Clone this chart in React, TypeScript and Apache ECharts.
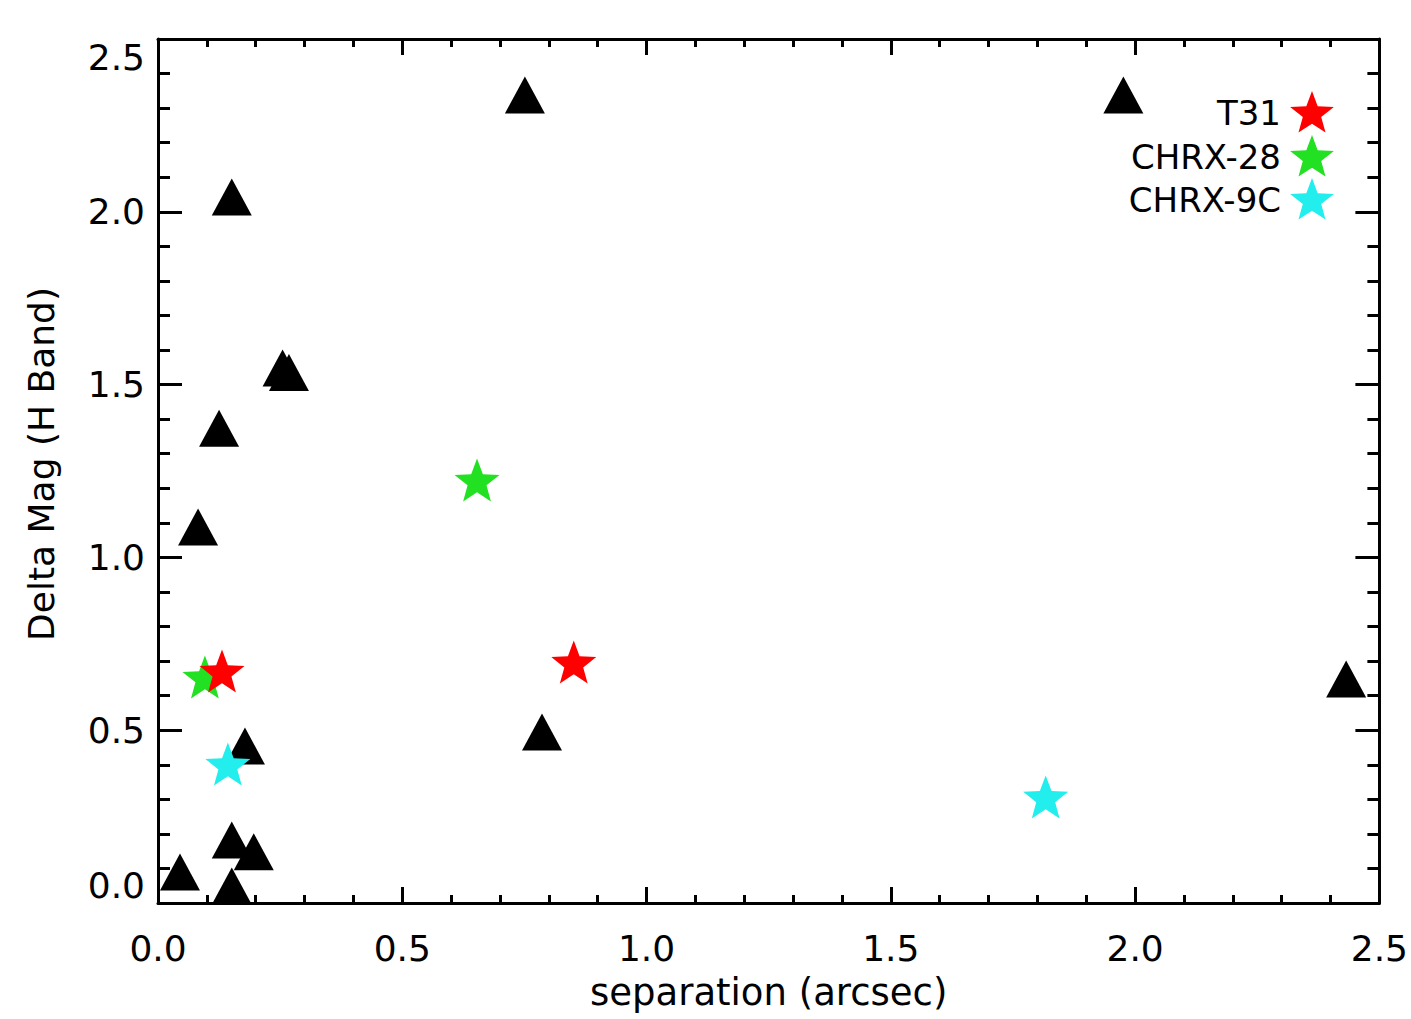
import React, { useEffect, useRef } from 'react';
import * as echarts from 'echarts';

// ---- data ----
const triangleSep = [0.751, 1.976, 0.151, 0.255, 0.268, 0.125, 0.082, 0.786, 2.432, 0.178, 0.151, 0.196, 0.045, 0.151];
const triangleDmag = [2.338, 2.338, 2.043, 1.548, 1.535, 1.374, 1.088, 0.495, 0.648, 0.454, 0.182, 0.148, 0.090, 0.049];

const t31Sep = [0.131, 0.851];
const t31Dmag = [0.671, 0.697];
const chrx28Sep = [0.096, 0.653];
const chrx28Dmag = [0.654, 1.224];
const chrx9cSep = [0.143, 1.817];
const chrx9cDmag = [0.402, 0.307];

const legendNames = ['T31', 'CHRX-28', 'CHRX-9C'];
const legendColors = ['#ff0000', '#22e022', '#22eeee'];

const xTickLabels = ['0.0', '0.5', '1.0', '1.5', '2.0', '2.5'];
const yTickLabels = ['0.0', '0.5', '1.0', '1.5', '2.0', '2.5'];

const FONT = 'DejaVu Sans';

function starPoints(cx: number, cy: number, R: number, ratio: number): number[][] {
  const pts: number[][] = [];
  for (let i = 0; i < 10; i++) {
    const a = (-90 + 36 * i) * Math.PI / 180;
    const r = i % 2 === 0 ? R : R * ratio;
    pts.push([cx + r * Math.cos(a), cy + r * Math.sin(a)]);
  }
  return pts;
}
const starPath = 'path://' + starPoints(0, 0, 100, 0.42)
  .map((p, i) => (i === 0 ? 'M' : 'L') + p[0].toFixed(2) + ',' + p[1].toFixed(2)).join(' ') + ' Z';

function zip(xs: number[], ys: number[]) {
  return xs.map((x, i) => [x, ys[i]]);
}

export default function App() {
  const ref = useRef<HTMLDivElement>(null);
  useEffect(() => {
    if (!ref.current) return;
    const chart = echarts.init(ref.current, null, { renderer: 'svg' });
    const tickLine = { color: '#000', width: 3 };
    const axisLine = { show: true, onZero: false, lineStyle: { color: '#000', width: 3 } };
    const labelStyle = { color: '#000', fontFamily: FONT, fontSize: 36 };
    const xFmt = (v: number) => xTickLabels[Math.round(v / 0.5)] ?? '';
    const yFmt = (v: number) => yTickLabels[Math.round(v / 0.5)] ?? '';

    const xBase: any = {
      type: 'value', min: 0, max: 2.5, interval: 0.5,
      axisLine, splitLine: { show: false },
      axisTick: { show: true, inside: true, length: 16, lineStyle: tickLine },
      minorTick: { show: true, splitNumber: 5, length: 8, lineStyle: tickLine },
    };
    const yBase: any = {
      type: 'value', min: 0, max: 2.5, interval: 0.5,
      axisLine, splitLine: { show: false },
      axisTick: { show: true, inside: true, length: 24, lineStyle: tickLine },
      minorTick: { show: true, splitNumber: 5, length: 12, lineStyle: tickLine },
    };

    const legendGraphics: any[] = [];
    const legendY = [113, 157, 200];
    legendNames.forEach((n, i) => {
      legendGraphics.push({
        type: 'text', x: 1281, y: legendY[i],
        style: { text: n, fill: '#000', font: `34px "${FONT}"`, textAlign: 'right', textVerticalAlign: 'middle' },
      });
      legendGraphics.push({
        type: 'polygon',
        shape: { points: starPoints(1312, legendY[i] + 1, 23, 0.42) },
        style: { fill: legendColors[i] },
      });
    });

    chart.setOption({
      animation: false,
      backgroundColor: '#fff',
      grid: { left: 158, right: 31, top: 39, bottom: 116, containLabel: false },
      xAxis: [
        {
          ...xBase, position: 'bottom',
          axisLabel: { ...labelStyle, margin: 27, formatter: xFmt },
          name: 'separation (arcsec)', nameLocation: 'middle', nameGap: 71,
          nameTextStyle: { color: '#000', fontFamily: FONT, fontSize: 37 },
        },
        { ...xBase, position: 'top', axisLabel: { show: false } },
      ],
      yAxis: [
        {
          ...yBase, position: 'left',
          axisLabel: {
            ...labelStyle, margin: 13, formatter: yFmt,
            verticalAlignMinLabel: 'bottom', verticalAlignMaxLabel: 'top',
          },
          name: 'Delta Mag (H Band)', nameLocation: 'middle', nameGap: 99,
          nameTextStyle: { color: '#000', fontFamily: FONT, fontSize: 36, padding: [0, 0, 0, 14] },
        },
        { ...yBase, position: 'right', axisLabel: { show: false } },
      ],
      series: [
        {
          type: 'scatter', name: 'triangles', xAxisIndex: 0, yAxisIndex: 0,
          symbol: 'triangle', symbolSize: [40, 37], clip: false,
          itemStyle: { color: '#000', opacity: 1 },
          data: zip(triangleSep, triangleDmag),
        },
        {
          type: 'scatter', name: legendNames[1], symbol: starPath, symbolSize: [45, 43], clip: false,
          itemStyle: { color: legendColors[1], opacity: 1 }, data: zip(chrx28Sep, chrx28Dmag),
        },
        {
          type: 'scatter', name: legendNames[0], symbol: starPath, symbolSize: [45, 43], clip: false,
          itemStyle: { color: legendColors[0], opacity: 1 }, data: zip(t31Sep, t31Dmag),
        },
        {
          type: 'scatter', name: legendNames[2], symbol: starPath, symbolSize: [45, 43], clip: false,
          itemStyle: { color: legendColors[2], opacity: 1 }, data: zip(chrx9cSep, chrx9cDmag),
        },
      ],
      graphic: legendGraphics,
    });
    return () => chart.dispose();
  }, []);
  return <div ref={ref} style={{ position: 'absolute', left: 0, top: 0, width: 1411, height: 1019 }} />;
}
